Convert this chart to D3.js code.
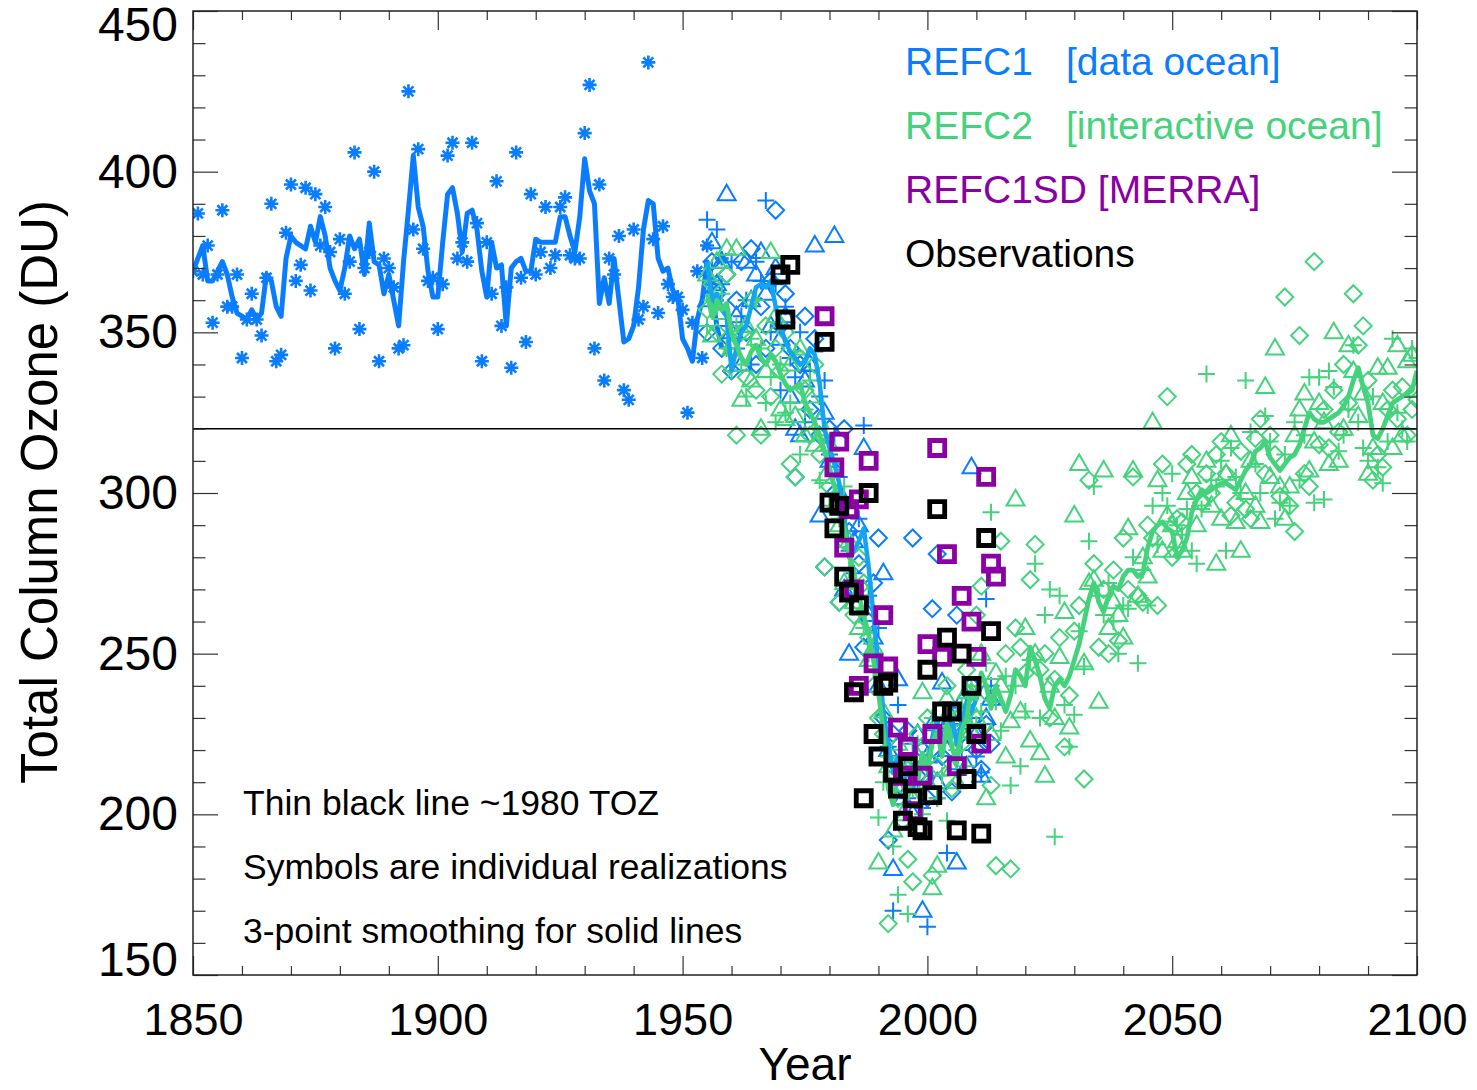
<!DOCTYPE html>
<html>
<head>
<meta charset="utf-8">
<script src="https://cdn.jsdelivr.net/npm/d3@7"></script>
<style>
  body { margin: 0; background: #fff; }
  svg { display: block; }
  text { font-family: "Liberation Sans", Arial, Helvetica, sans-serif; }
</style>
</head>
<body>
<svg id="chart" width="1477" height="1090"></svg>
<script>
// ---------------- data ----------------
// Historical single realization, 1850-1958 (asterisks) and its smoothed line
const histStart = 1850;
const histStars = [
  369, 387, 368, 377, 353, 368, 388, 358, 358, 368,
  342, 354, 362, 354, 349, 367, 390, 341, 343, 381,
  396, 366, 371, 395, 363, 393, 377, 389, 375, 345,
  379, 362, 372, 406, 351, 370, 375, 400, 341, 373,
  370, 364, 345, 346, 425, 382, 407, 376, 366, 367,
  351, 365, 405, 409, 373, 378, 372, 409, 384, 341,
  378, 362, 397, 352, 364, 339, 406, 367, 347, 393,
  368, 375, 389, 370, 374, 389, 392, 374, 373, 373,
  412, 427, 345, 396, 335, 373, 368, 380, 332, 329,
  382, 354, 358, 434, 379, 356, 383, 365, 361, 361,
  357, 325, 353, 369, 342, 377, 366, 360, 373
];
const histLine = [
  369, 373, 377, 366, 366, 369, 372, 368, 361, 356,
  355, 354, 357, 354, 356, 368, 366, 358, 355, 373,
  380, 378, 377, 376, 383, 378, 386, 380, 370, 366,
  363, 370, 380, 376, 379, 368, 384, 372, 371, 362,
  368, 360, 352, 372, 388, 405, 389, 383, 369, 361,
  361, 378, 393, 395, 387, 375, 387, 388, 382, 369,
  361, 378, 370, 371, 352, 370, 372, 373, 369, 369,
  379, 378, 378, 378, 378, 386, 386, 380, 375, 386,
  404, 394, 390, 359, 367, 359, 373, 360, 347, 348,
  352, 364, 382, 391, 390, 373, 369, 370, 363, 361,
  348, 345, 341, 354, 360, 372, 362, 352, 345
];

// REFC1 [data ocean]: three realizations 1955-2013 and ensemble line 1955-2011
const refc1Start = 1955;
const refc1Tri = [
  360, 378, 365, 372, 393,
  350, 355, 340, 372, 360, 368, 375, 362, 352, 370,
  348, 355, 330, 320, 318, 335, 340, 377, 293, 325,
  310, 380, 300, 270, 250, 285, 290, 314, 262, 255,
  240, 275, 220, 183, 242, 205, 215, 200, 225, 170,
  218, 228, 210, 241, 220, 230, 185, 235, 215, 308,
  225, 212, 230, 236
];
const refc1Dia = [
  350, 372, 362, 345, 368,
  338, 360, 372, 350, 376, 340, 358, 345, 366, 388,
  352, 362, 345, 305, 340, 355, 326, 348, 318, 277,
  320, 300, 266, 320, 288, 270, 278, 252, 260, 272,
  286, 230, 192, 225, 215, 208, 226, 286, 212, 220,
  205, 264, 281, 218, 225, 207, 262, 225, 232, 240,
  220, 214, 228, 222
];
const refc1Plus = [
  385, 370, 382, 365, 352,
  372, 345, 355, 360, 340, 372, 366, 391, 350, 365,
  332, 358, 342, 336, 350, 322, 338, 344, 330, 335,
  312, 318, 305, 298, 282, 275, 292, 321, 268, 250,
  258, 238, 221, 170, 234, 212, 205, 222, 210, 202,
  165, 212, 205, 226, 188, 228, 214, 220, 234, 230,
  218, 213, 267, 240
];
const refc1Line = [
  372, 360, 362, 357, 355,
  338, 345, 350, 352, 358, 364, 365, 364, 366, 358,
  352, 347, 344, 342, 340, 341, 345, 343, 334, 320,
  314, 309, 303, 293, 280, 282, 285, 289, 277, 262,
  246, 232, 222, 213, 218, 210, 214, 208, 212, 218,
  214, 224, 230, 221, 226, 230, 222, 228, 235, 232,
  236, 240
];

// REFC2 [interactive ocean]: three realizations and ensemble line, 1955-2100
const refc2Start = 1955;
const refc2Tri = [
  368, 349, 372, 356, 376,
  345, 376, 329, 352, 335, 348, 320, 338, 375, 355,
  326, 323, 340, 324, 345, 318, 330, 315, 322, 305,
  315, 296, 290, 272, 285, 266, 258, 270, 248, 252,
  185, 232, 215, 195, 222, 200, 214, 205, 218, 238,
  210, 177, 184, 228, 236, 214, 210, 232, 238, 226,
  230, 250, 205, 225, 244, 240, 218, 229, 298, 232,
  258, 223, 250, 219, 212, 240, 230, 249, 263, 227,
  293, 309, 247, 272, 273, 235, 307, 258, 266, 262,
  255, 289, 307, 268, 280, 274, 322, 304, 282, 293,
  290, 285, 282, 300, 305, 290, 298, 310, 296, 278,
  292, 306, 318, 291, 282, 300, 310, 296, 291, 333,
  305, 345, 302, 292, 302, 318, 326, 331, 307, 316,
  328, 322, 309, 350, 310, 320, 346, 338, 324, 331,
  306, 314, 339, 328, 339, 314, 346, 318, 341, 343,
  332
];
const refc2Dia = [
  357, 365, 350, 337, 368,
  345, 318, 350, 336, 360, 332, 318, 352, 330, 345,
  338, 350, 309, 305, 342, 332, 318, 340, 312, 277,
  302, 308, 266, 285, 270, 262, 280, 272, 255, 240,
  230, 225, 166, 215, 205, 198, 186, 179, 225, 212,
  230, 181, 215, 225, 240, 208, 230, 222, 245, 238,
  262, 271, 238, 209, 184, 285, 250, 183, 258, 252,
  244, 273, 284, 245, 250, 230, 242, 255, 221, 237,
  257, 265, 211, 304, 278, 252, 270, 250, 276, 254,
  286, 270, 305, 268, 266, 290, 286, 265, 309, 330,
  280, 292, 291, 309, 312, 300, 297, 306, 300, 312,
  316, 306, 293, 297, 313, 295, 292, 317, 323, 306,
  318, 312, 299, 361, 296, 288, 349, 306, 302, 372,
  315, 326, 314, 332, 319, 340, 328, 362, 346, 352,
  335, 304, 312, 308, 326, 332, 323, 333, 318, 326,
  329
];
const refc2Plus = [
  352, 360, 358, 362, 345,
  338, 352, 340, 330, 348, 360, 345, 328, 336, 322,
  340, 325, 328, 344, 312, 326, 335, 320, 304, 318,
  296, 300, 292, 302, 276, 268, 262, 258, 250, 245,
  199, 210, 218, 190, 175, 215, 169, 208, 222, 200,
  218, 230, 205, 212, 198, 226, 220, 234, 215, 240,
  228, 232, 247, 294, 235, 226, 243, 209, 240, 215,
  232, 248, 278, 230, 262, 270, 193, 268, 234, 221,
  231, 257, 246, 285, 302, 268, 262, 272, 260, 250,
  265, 264, 280, 247, 276, 265, 296, 284, 300, 296,
  306, 290, 287, 295, 282, 278, 295, 337, 304, 302,
  310, 282, 314, 305, 300, 335, 319, 309, 300, 324,
  316, 292, 297, 312, 296, 322, 304, 318, 336, 297,
  336, 298, 338, 333, 313, 318, 326, 346, 322, 314,
  310, 330, 308, 303, 316, 348, 325, 320, 316, 345,
  342
];
const refc2Line = [
  362, 355, 360, 357, 359,
  350, 346, 342, 340, 344, 346, 342, 340, 343, 341,
  337, 334, 332, 333, 334, 328, 325, 322, 318, 313,
  308, 302, 296, 289, 281, 275, 268, 262, 256, 248,
  238, 226, 208, 203, 214, 209, 205, 214, 210, 219,
  214, 222, 226, 218, 228, 221, 216, 226, 230, 239,
  236, 244, 240, 233, 240, 236, 232, 237, 245, 243,
  240, 252, 248, 243, 236, 233, 240, 242, 240, 243,
  248, 253, 260, 267, 272, 266, 263, 268, 271, 270,
  274, 276, 276, 274, 275, 283, 288, 290, 291, 289,
  288, 280, 282, 286, 294, 298, 301, 300, 301, 302,
  303, 303, 302, 301, 304, 307, 309, 313, 314, 316,
  311, 309, 307, 309, 311, 312, 315, 320, 325, 323,
  322, 322, 323, 324, 325, 327, 330, 335, 339, 333,
  328, 318, 317, 320, 324, 328, 329, 330, 331, 332,
  338
];

// REFC1SD [MERRA] realizations
const sdYears = [1979, 1981, 1982, 1983, 1984, 1985, 1986, 1986, 1988, 1989,
                 1991, 1992, 1993, 1994, 1995, 1996, 1997, 1999, 2000, 2001,
                 2002, 2003, 2004, 2006, 2007, 2009, 2010, 2011, 2012, 2013, 2014];
const sdValues = [355, 308, 316, 283, 295, 270, 298, 240, 310, 247,
                  262, 246, 213, 227, 212, 221, 201, 212, 253, 225,
                  314, 249, 281, 215, 268, 260, 249, 222, 305, 278, 274];

// Observations
const obsYears = [1970, 1971, 1972, 1979, 1980, 1981, 1982, 1983, 1984, 1985,
                  1986, 1987, 1988, 1989, 1990, 1991, 1992, 1993, 1994, 1995,
                  1996, 1997, 1998, 1999, 2000, 2001, 2002, 2003, 2004, 2005,
                  2006, 2007, 2008, 2009, 2010, 2011, 2012, 2013];
const obsValues = [368, 354, 371, 347, 297, 289, 296, 274, 269, 238,
                   265, 205, 300, 225, 218, 240, 241, 213, 208, 198,
                   215, 205, 196, 195, 245, 206, 295, 232, 255, 232,
                   195, 250, 211, 240, 225, 194, 286, 257];

// ~1980 total column ozone reference level
const toz1980 = 320;

// Axis ticks
const xMajor = [1850, 1900, 1950, 2000, 2050, 2100];
const yMajor = [150, 200, 250, 300, 350, 400, 450];

// Legend and notes
const legendItems = [
  { name: "REFC1", note: "[data ocean]", color: "#0a7dff" },
  { name: "REFC2", note: "[interactive ocean]", color: "#45d27c" },
  { name: "REFC1SD [MERRA]", note: "", color: "#8a00a2" },
  { name: "Observations", note: "", color: "#000000" }
];
const notes = [
  "Thin black line ~1980 TOZ",
  "Symbols are individual realizations",
  "3-point smoothing for solid lines"
];

// ---------------- drawing ----------------
const COL1 = "#0a7dff", COL1L = "#14a4f0", COL2 = "#45d27c", COLSD = "#8a00a2";
const FONT = '"Liberation Sans", Arial, Helvetica, sans-serif';
const svg = d3.select("#chart");
const L = 193, R = 1417, T = 11, B = 975;
const x = d3.scaleLinear().domain([1850, 2100]).range([L, R]);
const y = d3.scaleLinear().domain([150, 450]).range([B, T]);

const series = (start, vals) => vals.map((v, i) => ({ yr: start + i, v }));
const pairs = (yrs, vals) => yrs.map((yr, i) => ({ yr, v: vals[i] }));

const plot = svg.append("g");
plot.append("clipPath").attr("id", "clip")
  .append("rect").attr("x", L).attr("y", T).attr("width", R - L).attr("height", B - T);
const marks = plot.append("g").attr("clip-path", "url(#clip)");

// symbol outlines
const SYM = {
  tri: "M0,-9.5L9,6L-9,6Z",
  dia: "M0,-8.5L8.5,0L0,8.5L-8.5,0Z",
  plus: "M-8.5,0H8.5M0,-8.5V8.5",
  star: "M-7,0H7M0,-7V7M-5,-5L5,5M-5,5L5,-5",
  sq: "M-7.5,-7.5H7.5V7.5H-7.5Z"
};

function drawSymbols(data, shape, color, width) {
  marks.append("g").selectAll("path").data(data).join("path")
    .attr("d", SYM[shape])
    .attr("transform", d => `translate(${x(d.yr)},${y(d.v)})`)
    .attr("fill", "none").attr("stroke", color)
    .attr("stroke-width", width).attr("stroke-linejoin", "miter");
}
function drawLine(data, color, width) {
  marks.append("path").datum(data)
    .attr("d", d3.line().x(d => x(d.yr)).y(d => y(d.v)))
    .attr("fill", "none").attr("stroke", color)
    .attr("stroke-width", width).attr("stroke-linejoin", "round");
}

// historical run
drawSymbols(series(histStart, histStars), "star", COL1, 2.6);
drawLine(series(histStart, histLine), COL1, 5);

// REFC1 realizations
drawSymbols(series(refc1Start, refc1Tri), "tri", COL1, 2);
drawSymbols(series(refc1Start, refc1Dia), "dia", COL1, 2);
drawSymbols(series(refc1Start, refc1Plus), "plus", COL1, 2);
// REFC2 realizations
drawSymbols(series(refc2Start, refc2Tri), "tri", COL2, 2);
drawSymbols(series(refc2Start, refc2Dia), "dia", COL2, 2);
drawSymbols(series(refc2Start, refc2Plus), "plus", COL2, 2);

// ensemble lines
drawLine(series(refc1Start, refc1Line), COL1L, 4.5);
drawLine(series(refc2Start, refc2Line), COL2, 4.8);

// REFC1SD and observations
drawSymbols(pairs(sdYears, sdValues), "sq", COLSD, 4.8);
drawSymbols(pairs(obsYears, obsValues), "sq", "#000", 4.8);

// 1980 reference line
plot.append("line")
  .attr("x1", L).attr("x2", R).attr("y1", y(toz1980)).attr("y2", y(toz1980))
  .attr("stroke", "#000").attr("stroke-width", 1.5);

// ---- axes (ticks pointing inward on all four sides) ----
const xMinor = d3.range(1850, 2101, 10).filter(v => !xMajor.includes(v));
const yMinor = d3.range(150, 451, 10).filter(v => !yMajor.includes(v));

function styleAxis(g) {
  g.select(".domain").remove();
  g.selectAll(".tick line").attr("stroke", "#333").attr("stroke-width", 1.2);
}
svg.append("g").attr("transform", `translate(0,${B})`)
  .call(d3.axisBottom(x).tickValues(xMajor).tickFormat(d3.format("d"))
    .tickSize(-19).tickPadding(28))
  .call(styleAxis)
  .call(g => g.selectAll("text").attr("font-size", 45).attr("fill", "#000")
    .attr("font-family", FONT));
svg.append("g").attr("transform", `translate(0,${B})`)
  .call(d3.axisBottom(x).tickValues(xMinor).tickFormat("").tickSize(-9)).call(styleAxis);
svg.append("g").attr("transform", `translate(0,${T})`)
  .call(d3.axisTop(x).tickValues(xMajor).tickFormat("").tickSize(-19)).call(styleAxis);
svg.append("g").attr("transform", `translate(0,${T})`)
  .call(d3.axisTop(x).tickValues(xMinor).tickFormat("").tickSize(-9)).call(styleAxis);

svg.append("g").attr("transform", `translate(${L},0)`)
  .call(d3.axisLeft(y).tickValues(yMajor).tickFormat(d3.format("d"))
    .tickSize(-25).tickPadding(15))
  .call(styleAxis)
  .call(g => g.selectAll("text").attr("font-size", 48).attr("fill", "#000")
    .attr("font-family", FONT)
    // end labels are nudged inside the frame
    .attr("dy", d => d === 450 ? "0.62em" : d === 150 ? "0.0em" : "0.32em"));
svg.append("g").attr("transform", `translate(${L},0)`)
  .call(d3.axisLeft(y).tickValues(yMinor).tickFormat("").tickSize(-12.5)).call(styleAxis);
svg.append("g").attr("transform", `translate(${R},0)`)
  .call(d3.axisRight(y).tickValues(yMajor).tickFormat("").tickSize(-25)).call(styleAxis);
svg.append("g").attr("transform", `translate(${R},0)`)
  .call(d3.axisRight(y).tickValues(yMinor).tickFormat("").tickSize(-12.5)).call(styleAxis);

// frame
svg.append("rect").attr("x", L).attr("y", T).attr("width", R - L).attr("height", B - T)
  .attr("fill", "none").attr("stroke", "#222").attr("stroke-width", 1.5);

// axis titles
svg.append("text").attr("x", 805).attr("y", 1080).attr("text-anchor", "middle")
  .attr("font-size", 46).text("Year");
svg.append("text").attr("transform", "translate(57,492) rotate(-90)")
  .attr("text-anchor", "middle").attr("font-size", 51).text("Total Column Ozone (DU)");

// legend
const leg = svg.append("g");
legendItems.forEach((d, i) => {
  const yy = 75 + i * 64;
  leg.append("text").attr("x", 905).attr("y", yy).attr("font-size", 39)
    .attr("fill", d.color).text(d.name);
  if (d.note) leg.append("text").attr("x", 1066).attr("y", yy).attr("font-size", 39)
    .attr("fill", d.color).text(d.note);
});

// notes
notes.forEach((t, i) => {
  svg.append("text").attr("x", 243).attr("y", 815 + i * 64).attr("font-size", 35.5)
    .attr("fill", "#000").text(t);
});
</script>
</body>
</html>
